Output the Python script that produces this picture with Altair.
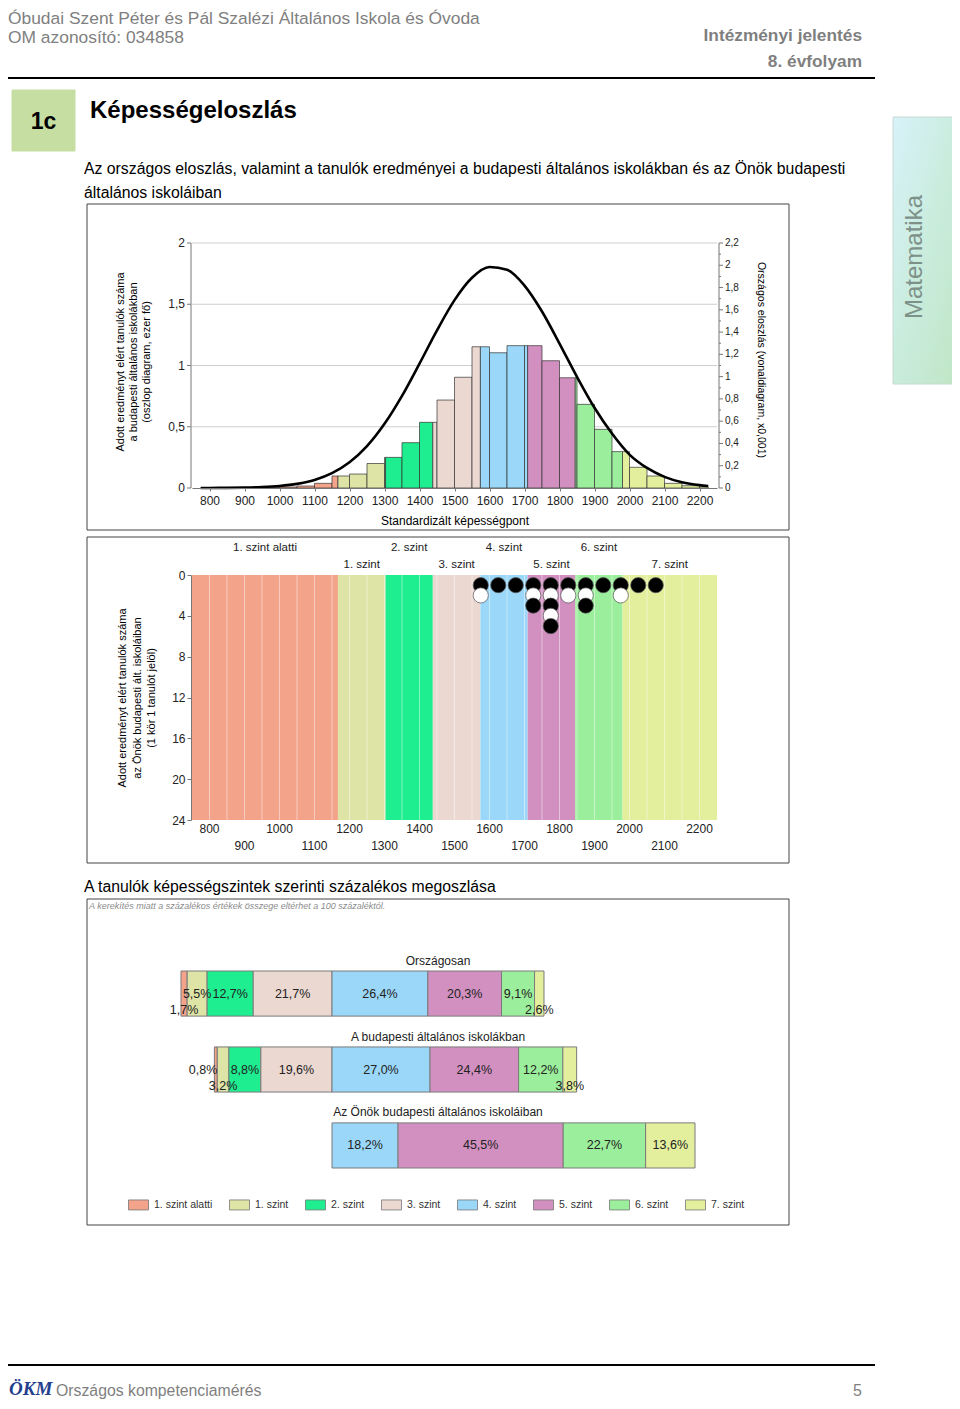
import altair as alt
import pandas as pd
import bisect

FONT = "Liberation Sans"

# ------------------------------------------------------------------ data
levels = ["1. szint alatti", "1. szint", "2. szint", "3. szint",
          "4. szint", "5. szint", "6. szint", "7. szint"]
level_colors = ["#F4A38B", "#DDE4A5", "#1EEE8F", "#EBD8D1",
                "#9AD7F8", "#D190C0", "#9BEE9B", "#E3EF9D"]
level_edges = [750, 1167, 1303, 1438, 1574, 1709, 1845, 1980, 2250]

hist_edges = [775, 800, 850, 900, 950, 1000, 1050, 1100, 1150, 1200, 1250, 1300,
              1350, 1400, 1450, 1500, 1550, 1600, 1650, 1700, 1750, 1800, 1850,
              1900, 1950, 2000, 2050, 2100, 2150, 2200, 2225]
hist_values = [0.002, 0.003, 0.003, 0.004, 0.005, 0.008, 0.016, 0.038, 0.098,
               0.114, 0.200, 0.250, 0.370, 0.536, 0.718, 0.904, 1.153, 1.104,
               1.162, 1.162, 1.039, 0.900, 0.683, 0.479, 0.297, 0.169, 0.098,
               0.038, 0.019, 0.010]

curve_x = [775, 800, 850, 900, 950, 1000, 1050, 1100, 1150, 1200, 1250, 1300,
           1350, 1400, 1450, 1500, 1550, 1600, 1650, 1700, 1750, 1800, 1850,
           1900, 1950, 2000, 2050, 2100, 2150, 2200, 2225]
curve_y = [0.0003, 0.0005, 0.0013, 0.0033, 0.008, 0.018, 0.037, 0.072, 0.133,
           0.231, 0.376, 0.576, 0.827, 1.117, 1.416, 1.687, 1.888, 1.984, 1.960,
           1.818, 1.585, 1.297, 0.998, 0.721, 0.489, 0.300, 0.180, 0.100, 0.052,
           0.026, 0.018]

hist_x_ticks = [800, 900, 1000, 1100, 1200, 1300, 1400, 1500, 1600, 1700,
                1800, 1900, 2000, 2100, 2200]
left_ticks = [0, 0.5, 1, 1.5, 2]
right_ticks = [0, 0.2, 0.4, 0.6, 0.8, 1, 1.2, 1.4, 1.6, 1.8, 2, 2.2]
right_minor = [0.1, 0.3, 0.5, 0.7, 0.9, 1.1, 1.3, 1.5, 1.7, 1.9, 2.1]

dot_x = [1575, 1625, 1675, 1725, 1775, 1825, 1875, 1925, 1975, 2025, 2075]
dot_stacks = ["BW", "B", "B", "BWB", "BWBWB", "BW", "BWB", "B", "BW", "B", "B"]
dot_y_ticks = [0, 4, 8, 12, 16, 20, 24]
dot_labels_row1 = [800, 1000, 1200, 1400, 1600, 1800, 2000, 2200]
dot_labels_row2 = [900, 1100, 1300, 1500, 1700, 1900, 2100]
ticks50 = list(range(750, 2251, 50))
grid50 = list(range(800, 2201, 50))

pct_groups = ["Országosan", "A budapesti általános iskolákban",
              "Az Önök budapesti általános iskoláiban"]
pct_national = [1.7, 5.5, 12.7, 21.7, 26.4, 20.3, 9.1, 2.6]
pct_budapest = [0.8, 3.2, 8.8, 19.6, 27.0, 24.4, 12.2, 3.8]
pct_school = [0, 0, 0, 0, 18.2, 45.5, 22.7, 13.6]


# ------------------------------------------------------------------ helpers
def P(v):
    """page pixel -> chart pixel (page has an 8px margin)"""
    return v - 8


def hu(v, dec=1):
    return f"{v:.{dec}f}".replace(".", ",")


def hu_trim(v):
    return f"{v:.1f}".rstrip("0").rstrip(".").replace(".", ",")


ONE = pd.DataFrame({"_": [0]})
W, H = 944, 1393


def txt(s, x, y, size=12, color="#000", weight="normal", align="left",
        angle=0, style="normal", font=FONT):
    return alt.Chart(ONE).mark_text(
        text=s, fontSize=size, color=color, fontWeight=weight, align=align,
        baseline="middle", angle=angle, fontStyle=style, font=font
    ).encode(x=alt.value(P(x)), y=alt.value(P(y)))


def box(x0, y0, x1, y1, fill="white", stroke="#444", sw=1):
    return alt.Chart(ONE).mark_rect(fill=fill, stroke=stroke, strokeWidth=sw).encode(
        x=alt.value(P(x0)), x2=alt.value(P(x1)), y=alt.value(P(y0)), y2=alt.value(P(y1)))


def hline(x0, x1, y, color="#000", sw=2):
    return alt.Chart(ONE).mark_rule(color=color, strokeWidth=sw).encode(
        x=alt.value(P(x0)), x2=alt.value(P(x1)), y=alt.value(P(y)))


LEVEL_SCALE = alt.Scale(domain=levels, range=level_colors)
AX = dict(labelFont=FONT, labelColor="#222", domainColor="#777", tickColor="#777",
          title=None, grid=False, labelOverlap=False, zindex=1)
AXC = "#777"

# ------------------------------------------------------------------ histogram (top)
X_HIST = alt.Scale(domain=[750, 2250], range=[P(192), P(717)], nice=False, zero=False)
Y_HIST = alt.Scale(domain=[0, 2], range=[P(488), P(243)], nice=False, zero=False)
Y_RIGHT = alt.Scale(domain=[0, 2.2], range=[P(488), P(243)], nice=False, zero=False)

segs = []
for a, b, h in zip(hist_edges[:-1], hist_edges[1:], hist_values):
    cuts = [a] + [c for c in level_edges[1:-1] if a < c < b] + [b]
    for s, e in zip(cuts[:-1], cuts[1:]):
        li = bisect.bisect_right(level_edges, (s + e) / 2) - 1
        segs.append({"s": s, "e": e, "h": h, "level": levels[li]})
hist_df = pd.DataFrame(segs)

left_df = pd.DataFrame({"v": left_ticks, "lab": [hu_trim(v) for v in left_ticks]})

hist_grid = alt.Chart(left_df[left_df["v"] > 0]).mark_rule(
    color="#cfcfcf", strokeWidth=1).encode(
    y=alt.Y("v:Q", scale=Y_HIST, axis=None),
    x=alt.value(P(192)), x2=alt.value(P(717)))

hist_bars = alt.Chart(hist_df).mark_rect(stroke="#333", strokeWidth=0.7).encode(
    x=alt.X("s:Q", scale=X_HIST, axis=alt.Axis(
        orient="bottom", offset=P(488) - H, values=hist_x_ticks, labelFontSize=12,
        tickSize=3, labelPadding=4, format="d", **AX)),
    x2="e:Q",
    y=alt.Y("h:Q", scale=Y_HIST, axis=None),
    y2=alt.datum(0),
    color=alt.Color("level:N", scale=LEVEL_SCALE, legend=None))

left_dom = alt.Chart(left_df).mark_rule(color=AXC, strokeWidth=1).encode(
    y=alt.Y("min(v):Q", scale=Y_HIST, axis=None), y2="max(v):Q",
    x=alt.value(P(191)))
left_tk = alt.Chart(left_df).mark_rule(color=AXC, strokeWidth=1).encode(
    y=alt.Y("v:Q", scale=Y_HIST, axis=None), x=alt.value(P(187)), x2=alt.value(P(191)))
left_lab = alt.Chart(left_df).mark_text(
    fontSize=12, font=FONT, color="#222", align="right", baseline="middle").encode(
    y=alt.Y("v:Q", scale=Y_HIST, axis=None), x=alt.value(P(185)), text="lab:N")

hist_layer = alt.layer(hist_grid, hist_bars, left_dom, left_tk, left_lab)

right_df = pd.DataFrame({"v": right_ticks, "lab": [hu_trim(v) for v in right_ticks]})
curve_line = alt.Chart(pd.DataFrame({"x": curve_x, "y": curve_y})).mark_line(
    color="black", strokeWidth=2.6, interpolate="monotone").encode(
    x=alt.X("x:Q", scale=X_HIST, axis=None),
    y=alt.Y("y:Q", scale=Y_RIGHT, axis=None))
right_dom = alt.Chart(right_df).mark_rule(color=AXC, strokeWidth=1).encode(
    y=alt.Y("min(v):Q", scale=Y_RIGHT, axis=None), y2="max(v):Q",
    x=alt.value(P(719)))
right_tk = alt.Chart(right_df).mark_rule(color=AXC, strokeWidth=1).encode(
    y=alt.Y("v:Q", scale=Y_RIGHT, axis=None), x=alt.value(P(719)), x2=alt.value(P(723)))
right_minor_tk = alt.Chart(pd.DataFrame({"m": right_minor})).mark_rule(
    color=AXC, strokeWidth=1).encode(
    y=alt.Y("m:Q", scale=Y_RIGHT, axis=None), x=alt.value(P(719)), x2=alt.value(P(721)))
right_lab = alt.Chart(right_df).mark_text(
    fontSize=10, font=FONT, color="#222", align="left", baseline="middle").encode(
    y=alt.Y("v:Q", scale=Y_RIGHT, axis=None), x=alt.value(P(725)), text="lab:N")
curve_layer = alt.layer(curve_line, right_dom, right_tk, right_minor_tk, right_lab)

# ------------------------------------------------------------------ dot plot (middle)
X_DOT = alt.Scale(domain=[750, 2250], range=[P(192), P(717)], nice=False, zero=False)
Y_DOT = alt.Scale(domain=[0, 24], range=[P(575), P(820)], nice=False, zero=False)

bands_df = pd.DataFrame({"level": levels, "lo": level_edges[:-1], "hi": level_edges[1:]})
bands_df["mid"] = (bands_df["lo"] + bands_df["hi"]) / 2
bands_df["row"] = [i % 2 for i in range(len(levels))]

dot_rows = []
for xv, stack in zip(dot_x, dot_stacks):
    for k, c in enumerate(stack):
        dot_rows.append({"x": xv, "k": k + 1, "c": c, "order": k})
dots_df = pd.DataFrame(dot_rows)

bands = alt.Chart(bands_df).mark_rect().encode(
    x=alt.X("lo:Q", scale=X_DOT, axis=alt.Axis(
        orient="top", offset=-P(575), values=ticks50, labels=False, tickSize=4, **AX)),
    x2="hi:Q",
    y=alt.value(P(575)), y2=alt.value(P(820)),
    color=alt.Color("level:N", scale=LEVEL_SCALE, legend=None))

dot_grid = alt.Chart(pd.DataFrame({"g": grid50})).mark_rule(
    color="white", opacity=0.45, strokeWidth=1).encode(
    x=alt.X("g:Q", scale=X_DOT, axis=None),
    y=alt.value(P(575)), y2=alt.value(P(820)))

dots = alt.Chart(dots_df).mark_point(
    filled=True, shape="circle", size=230, opacity=1, stroke="#555",
    strokeWidth=0.7).encode(
    x=alt.X("x:Q", scale=X_DOT, axis=None),
    y=alt.Y("k:Q", scale=Y_DOT, axis=alt.Axis(
        orient="left", offset=-P(191), values=dot_y_ticks, labelFontSize=12,
        tickSize=4, labelPadding=2, **AX)),
    fill=alt.Fill("c:N", scale=alt.Scale(domain=["B", "W"], range=["#000000", "#ffffff"]),
                  legend=None),
    order=alt.Order("order:Q"))

dot_lab1 = alt.Chart(pd.DataFrame({"v": dot_labels_row1})).mark_text(
    fontSize=12, font=FONT, color="#222", baseline="middle").encode(
    x=alt.X("v:Q", scale=X_DOT, axis=None), y=alt.value(P(829)), text="v:Q")
dot_lab2 = alt.Chart(pd.DataFrame({"v": dot_labels_row2})).mark_text(
    fontSize=12, font=FONT, color="#222", baseline="middle").encode(
    x=alt.X("v:Q", scale=X_DOT, axis=None), y=alt.value(P(846)), text="v:Q")
lvl_lab1 = alt.Chart(bands_df[bands_df["row"] == 0]).mark_text(
    fontSize=11.5, font=FONT, color="#222", baseline="middle").encode(
    x=alt.X("mid:Q", scale=X_DOT, axis=None), y=alt.value(P(548)), text="level:N")
lvl_lab2 = alt.Chart(bands_df[bands_df["row"] == 1]).mark_text(
    fontSize=11.5, font=FONT, color="#222", baseline="middle").encode(
    x=alt.X("mid:Q", scale=X_DOT, axis=None), y=alt.value(P(565)), text="level:N")

dot_layer = alt.layer(bands, dot_grid, dots, dot_lab1, dot_lab2, lvl_lab1, lvl_lab2)

# ------------------------------------------------------------------ percent bars (bottom)
X_PCT = alt.Scale(domain=[-50, 100], range=[P(332 - 50 * 3.63), P(332 + 100 * 3.63)],
                  nice=False, zero=False)
Y_PCT = alt.Scale(domain=pct_groups, range=[P(971), P(1168)],
                  paddingInner=0.406, paddingOuter=0)

prow = []
for g, vals in zip(pct_groups, [pct_national, pct_budapest, pct_school]):
    cum = -sum(vals[:4])
    present = [(lv, v) for lv, v in zip(levels, vals) if v > 0]
    for i, (lv, v) in enumerate(present):
        x0, x1 = cum, cum + v
        cum = x1
        nxt = present[i + 1][1] if i + 1 < len(present) else None
        if v >= 5:
            mode, lx = "mid", (x0 + x1) / 2
        elif nxt is not None and nxt < 5:
            mode, lx = "right", x1
        else:
            mode, lx = "low", (x0 + x1) / 2
        prow.append({"group": g, "level": lv, "x0": x0, "x1": x1, "lx": lx,
                     "mode": mode, "label": hu(v) + "%"})
pct_df = pd.DataFrame(prow)

pbars = alt.Chart(pct_df).mark_rect(stroke="#7a7a7a", strokeWidth=1).encode(
    x=alt.X("x0:Q", scale=X_PCT, axis=None), x2="x1:Q",
    y=alt.Y("group:N", scale=Y_PCT, axis=None),
    color=alt.Color("level:N", scale=LEVEL_SCALE, legend=alt.Legend(
        orient="none", legendX=P(128), legendY=P(1194), direction="horizontal",
        columns=8, title=None, symbolType="M-1,-0.5H1V0.5H-1Z", symbolSize=400,
        symbolStrokeColor="#777", symbolStrokeWidth=0.8, symbolOpacity=1,
        labelFont=FONT, labelFontSize=10.5, labelColor="#333", columnPadding=14,
        labelOffset=5, padding=0)))


def plabels(mode, align, dy):
    return alt.Chart(pct_df[pct_df["mode"] == mode]).mark_text(
        fontSize=12.5, font=FONT, color="#222", align=align, baseline="middle",
        dy=dy).encode(
        x=alt.X("lx:Q", scale=X_PCT, axis=None),
        y=alt.Y("group:N", scale=Y_PCT, axis=None),
        text="label:N")


ptitles = alt.Chart(pd.DataFrame({"group": pct_groups})).mark_text(
    fontSize=12, font=FONT, color="#222", baseline="middle", dy=-33).encode(
    x=alt.value(P(438)), y=alt.Y("group:N", scale=Y_PCT, axis=None), text="group:N")

pct_layer = alt.layer(pbars, plabels("mid", "center", 0), plabels("low", "center", 16),
                      plabels("right", "right", 0), ptitles)

# ------------------------------------------------------------------ page decorations
GRAY = "#7f7f7f"
tab_fill = alt.LinearGradient(
    gradient="linear", x1=0, y1=0, x2=1, y2=1,
    stops=[alt.GradientStop(color="#d8f2fa", offset=0),
           alt.GradientStop(color="#c9ecdc", offset=0.5),
           alt.GradientStop(color="#bfe5c3", offset=1)])
tab = alt.Chart(ONE).mark_rect(fill=tab_fill, stroke="#c8dcd0", strokeWidth=1).encode(
    x=alt.value(P(893)), x2=alt.value(P(962)), y=alt.value(P(117)), y2=alt.value(P(384)))

deco_back = [
    box(87, 204, 789, 530), box(87, 537, 789, 863), box(87, 899, 789, 1225),
    tab,
]
deco_front = [
    txt("Óbudai Szent Péter és Pál Szalézi Általános Iskola és Óvoda", 8, 19,
        size=17.4, color=GRAY),
    txt("OM azonosító: 034858", 8, 38, size=17.4, color=GRAY),
    txt("Intézményi jelentés", 862, 36, size=17.3, color=GRAY, weight="bold", align="right"),
    txt("8. évfolyam", 862, 62, size=17.3, color=GRAY, weight="bold", align="right"),
    hline(8, 875, 78, sw=2),
    box(12, 90, 75, 151, fill="#c6dea2", stroke="#c6dea2"),
    txt("1c", 43.5, 122, size=23, weight="bold", align="center"),
    txt("Képességeloszlás", 90, 111, size=24, weight="bold"),
    txt("Az országos eloszlás, valamint a tanulók eredményei a budapesti általános "
        "iskolákban és az Önök budapesti", 84, 169, size=15.8),
    txt("általános iskoláiban", 84, 193, size=15.8),
    txt("Matematika", 915, 257, size=24, color="#7d9189", angle=270, align="center"),
    # top chart titles
    txt("Adott eredményt elért tanulók száma", 121, 362, size=11, angle=270, align="center"),
    txt("a budapesti általános iskolákban", 134, 362, size=11, angle=270, align="center"),
    txt("(oszlop diagram, ezer fő)", 147, 362, size=11, angle=270, align="center"),
    txt("Országos eloszlás (vonaldiagram, x0,001)", 761, 360, size=10.5, angle=90,
        align="center"),
    txt("Standardizált képességpont", 455, 521, size=12, align="center"),
    # dot plot titles
    txt("Adott eredményt elért tanulók száma", 123, 698, size=11, angle=270, align="center"),
    txt("az Önök budapesti ált. iskoláiban", 138, 698, size=11, angle=270, align="center"),
    txt("(1 kör 1 tanulót jelöl)", 152, 698, size=11, angle=270, align="center"),
    # percent section
    txt("A tanulók képességszintek szerinti százalékos megoszlása", 84, 887, size=15.8),
    txt("A kerekítés miatt a százalékos értékek összege eltérhet a 100 százaléktól.",
        89, 906, size=9, color="#8c8c8c", style="italic"),
    # footer
    hline(8, 875, 1365, sw=2),
    txt("ÖKM", 9, 1389, size=19, color="#23408e", weight="bold", style="italic",
        font="Liberation Serif"),
    txt("Országos kompetenciamérés", 56, 1391, size=15.8, color=GRAY),
    txt("5", 862, 1391, size=16, color=GRAY, align="right"),
]

chart = alt.layer(
    *deco_back, hist_layer, curve_layer, dot_layer, pct_layer, *deco_front
).resolve_scale(
    x="independent", y="independent", color="independent", fill="independent"
).properties(
    width=W, height=H, autosize=alt.AutoSizeParams(type="none"), padding=0
).configure(font=FONT).configure_view(stroke=None)

chart.save("out.html", embed_options={"renderer": "svg", "actions": False})
